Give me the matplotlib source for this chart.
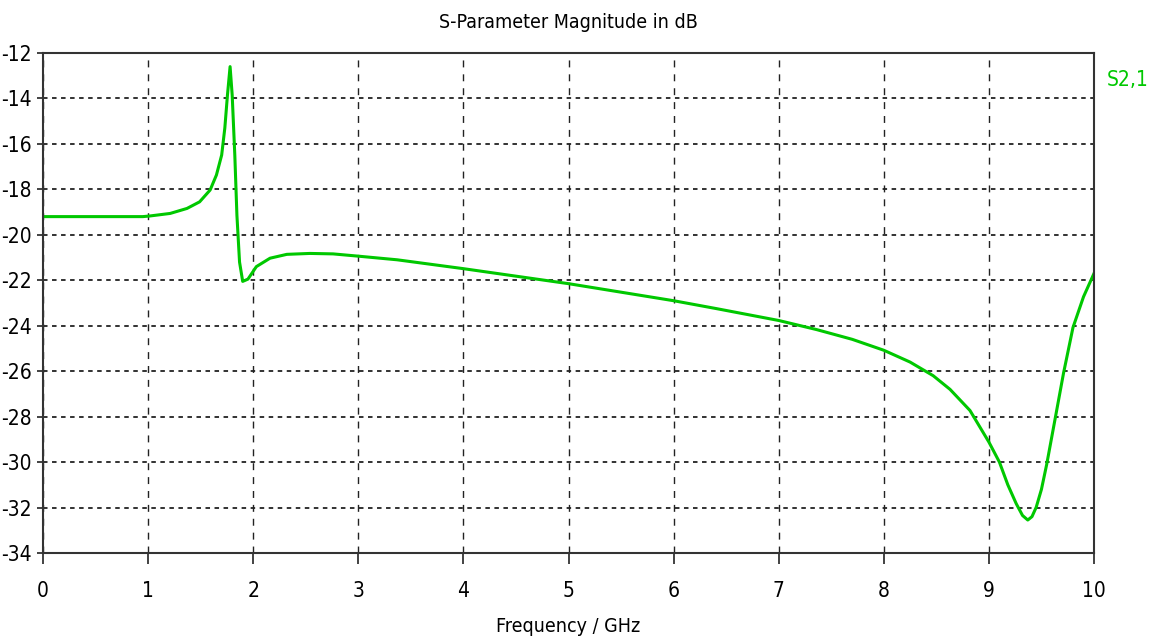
import matplotlib
matplotlib.use('Agg')
import matplotlib.pyplot as plt
from matplotlib.ticker import MultipleLocator

# S2,1 magnitude (GHz, dB)
freq = [0, 0.5, 0.95, 1.02, 1.21, 1.37, 1.49, 1.59, 1.65, 1.70, 1.73, 1.755,
        1.78, 1.80, 1.825, 1.845, 1.87, 1.90, 1.95, 2.03, 2.16, 2.32, 2.54,
        2.76, 3.0, 3.37, 4, 5, 6, 6.41, 7, 7.36, 7.7, 8, 8.25, 8.47, 8.63,
        8.82, 9, 9.1, 9.18, 9.26, 9.32, 9.37, 9.41, 9.45, 9.5, 9.55, 9.63,
        9.71, 9.8, 9.9, 10]
s21 = [-19.2, -19.2, -19.2, -19.17, -19.06, -18.84, -18.55, -18.03, -17.37,
       -16.49, -15.3, -13.85, -12.6, -13.85, -16.5, -19.14, -21.2, -22.05,
       -21.95, -21.4, -21.03, -20.86, -20.82, -20.84, -20.94, -21.1, -21.49,
       -22.15, -22.9, -23.25, -23.77, -24.17, -24.6, -25.08, -25.6, -26.2,
       -26.8, -27.73, -29.12, -30.0, -31.0, -31.83, -32.35, -32.55, -32.4,
       -31.99, -31.2, -30.1, -28.1, -26.09, -24.08, -22.73, -21.7]

title = 'S-Parameter Magnitude in dB'
xlabel = 'Frequency / GHz'
series_name = 'S2,1'

plt.rcParams['font.family'] = ['DejaVu Sans']
plt.rcParams['font.stretch'] = 'condensed'
plt.rcParams['axes.unicode_minus'] = False
green = '#00c800'
fs = 15

fig = plt.figure(figsize=(11.5, 6.43), dpi=100)
ax = fig.add_axes([0.0374, 0.14, 0.9139, 0.7776])

ax.plot(freq, s21, color=green, lw=2.2)

ax.set_xlim(0, 10)
ax.set_ylim(-34, -12)
ax.xaxis.set_major_locator(MultipleLocator(1))
ax.yaxis.set_major_locator(MultipleLocator(2))

# vertical grid dashed, horizontal grid dotted
ax.grid(True, axis='x', color='#222222', ls=(0, (5, 5)), lw=1.0)
ax.grid(True, axis='y', color='#222222', ls=(0, (2.5, 2.5)), lw=1.3)

for s in ax.spines.values():
    s.set_color('#333333')
    s.set_linewidth(1.5)

ax.tick_params(axis='x', direction='out', length=8, width=1.2, color='#222222',
               labelsize=fs, pad=12)
ax.tick_params(axis='y', direction='out', length=4, width=1.2, color='#222222',
               labelsize=fs, pad=4)
for lab in ax.get_xticklabels() + ax.get_yticklabels():
    lab.set_fontstretch('condensed')

ax.set_title(title, fontsize=fs - 1, pad=18, fontstretch='condensed')
ax.set_xlabel(xlabel, fontsize=fs - 1, labelpad=12, fontstretch='condensed')

fig.text(0.962, 0.875, series_name, color=green, fontsize=fs, ha='left',
         va='center', fontstretch='condensed')

plt.savefig('out.png', dpi=100)
